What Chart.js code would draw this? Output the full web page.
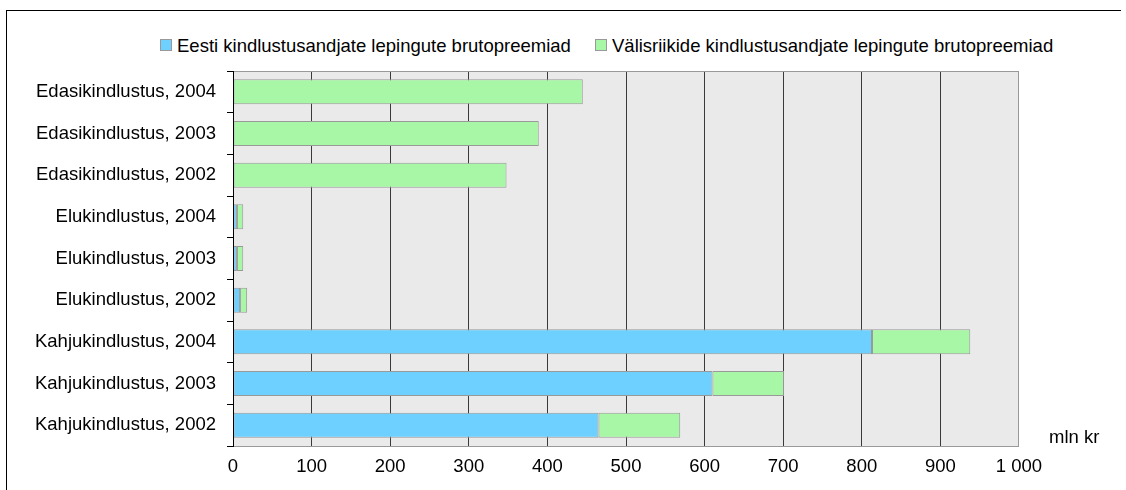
<!DOCTYPE html>
<html>
<head>
<meta charset="utf-8">
<script src="https://cdn.jsdelivr.net/npm/chart.js@4"></script>
<style>
  body { margin: 0; background: #fff; font-family: "Liberation Sans", Arial, sans-serif; }
  #wrap { position: relative; width: 1126px; height: 490px; overflow: hidden; }
  #frame { position: absolute; left: 6px; top: 10px; width: 1114px; height: 600px;
           border-left: 1px solid #000; border-top: 1px solid #000; }
  .leg { position: absolute; top: 35px; font-size: 18.5px; color: #000; white-space: nowrap; }
  .leg span { display: inline-block; width: 10px; height: 10px; border: 1px solid #999;
              margin-right: 5px; vertical-align: 1px; }
  canvas { position: absolute; left: 0; top: 0; }
</style>
</head>
<body>
<div id="wrap">
  <div id="frame"></div>
  <div class="leg" style="left:160px"><span style="background:#6dd0ff"></span>Eesti kindlustusandjate lepingute brutopreemiad</div>
  <div class="leg" style="left:595px"><span style="background:#a8f7a6"></span>Välisriikide kindlustusandjate lepingute brutopreemiad</div>
  <canvas id="chart" width="1126" height="490"></canvas>
</div>
<script>
const labels = [
  'Edasikindlustus, 2004', 'Edasikindlustus, 2003', 'Edasikindlustus, 2002',
  'Elukindlustus, 2004', 'Elukindlustus, 2003', 'Elukindlustus, 2002',
  'Kahjukindlustus, 2004', 'Kahjukindlustus, 2003', 'Kahjukindlustus, 2002'
];
const eesti = [null, null, null, 5, 5, 9, 813, 610, 465];
const valis = [445, 389, 348, 8, 8, 9, 125, 91, 104];
const unitLabel = 'mln kr';

const fontFamily = '"Liberation Sans", Arial, sans-serif';

const plotBg = {
  id: 'plotBg',
  beforeDraw(chart) {
    const { ctx, chartArea: a } = chart;
    ctx.save();
    ctx.fillStyle = '#eaeaea';
    ctx.fillRect(a.left, a.top, a.right - a.left, a.bottom - a.top);
    ctx.restore();
  },
  afterDatasetsDraw(chart) {
    const { ctx, chartArea: a } = chart;
    ctx.save();
    ctx.strokeStyle = '#999';
    ctx.lineWidth = 1;
    ctx.strokeRect(a.left + 0.5, a.top + 0.5, a.right - a.left - 1, a.bottom - a.top);
    ctx.fillStyle = '#000';
    ctx.font = '18.5px ' + fontFamily;
    ctx.textBaseline = 'middle';
    ctx.fillText(unitLabel, a.right + 30, a.bottom - 8);
    // y axis line
    ctx.strokeStyle = '#000';
    ctx.beginPath();
    ctx.moveTo(a.left + 0.5, a.top);
    ctx.lineTo(a.left + 0.5, a.bottom + 1);
    ctx.stroke();
    ctx.restore();
  }
};

const ctx = document.getElementById('chart').getContext('2d');
new Chart(ctx, {
  type: 'bar',
  data: {
    labels: labels,
    datasets: [
      {
        label: 'Eesti kindlustusandjate lepingute brutopreemiad',
        data: eesti,
        backgroundColor: '#6dd0ff',
        borderColor: '#999',
        borderWidth: 1,
        borderSkipped: false
      },
      {
        label: 'Välisriikide kindlustusandjate lepingute brutopreemiad',
        data: valis,
        backgroundColor: '#a8f7a6',
        borderColor: '#999',
        borderWidth: 1,
        borderSkipped: false
      }
    ]
  },
  options: {
    indexAxis: 'y',
    responsive: false,
    animation: false,
    barPercentage: 0.6,
    categoryPercentage: 1,
    layout: { padding: { left: 0, right: 107, top: 71, bottom: 0 } },
    plugins: {
      legend: { display: false },
      tooltip: { enabled: false }
    },
    scales: {
      x: {
        stacked: true,
        min: 0,
        max: 1000,
        afterFit(s) { s.height = 44; },
        border: { display: false },
        grid: {
          drawTicks: false,
          color: c => (c.tick && (c.tick.value === 0 || c.tick.value === 1000)) ? 'rgba(0,0,0,0)' : '#3a3a3a',
          lineWidth: 1
        },
        ticks: {
          stepSize: 100,
          padding: 10,
          color: '#000',
          font: { family: fontFamily, size: 18.5 },
          callback: v => v === 1000 ? '1 000' : v
        }
      },
      y: {
        stacked: true,
        afterFit(s) { s.width = 233; },
        border: { display: false },
        grid: {
          offset: true,
          drawOnChartArea: false,
          drawTicks: true,
          tickLength: 6,
          color: '#000'
        },
        ticks: {
          padding: 11,
          color: '#000',
          font: { family: fontFamily, size: 18.5 }
        }
      }
    }
  },
  plugins: [plotBg]
});
</script>
</body>
</html>
